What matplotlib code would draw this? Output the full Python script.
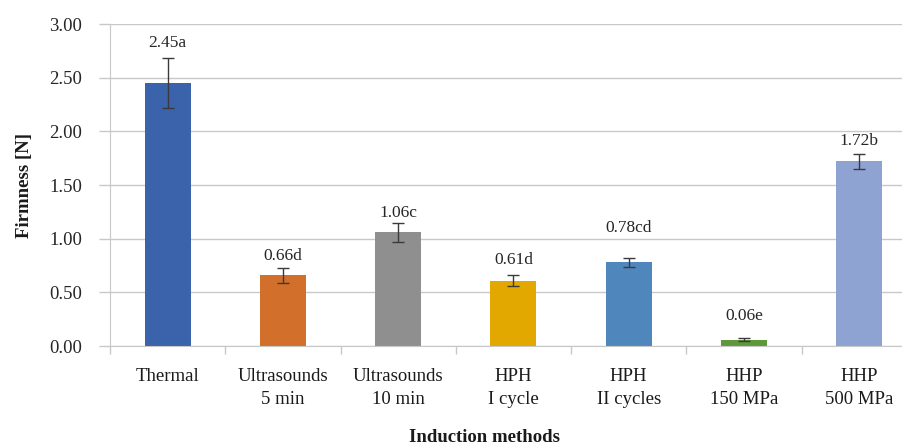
import matplotlib
matplotlib.use("Agg")
import matplotlib.pyplot as plt

methods = ["Thermal", "Ultrasounds\n5 min", "Ultrasounds\n10 min", "HPH\nI cycle",
           "HPH\nII cycles", "HHP\n150 MPa", "HHP\n500 MPa"]
firmness = [2.45, 0.66, 1.06, 0.61, 0.78, 0.06, 1.72]
errors = [0.23, 0.07, 0.09, 0.05, 0.04, 0.01, 0.07]
letters = ["a", "d", "c", "d", "cd", "e", "b"]
yticks = [0.0, 0.5, 1.0, 1.5, 2.0, 2.5, 3.0]

colors = ["#3A63AC", "#D2702B", "#8F8F8F", "#E2A800", "#4F87BD", "#5E983B", "#8FA3D3"]
label_offsets = [15, 12, 10, 15, 30, 22, 13]  # px above error bar, as in the figure

plt.rcParams["font.family"] = ["Liberation Serif", "DejaVu Serif"]

fig = plt.figure(figsize=(9.03, 4.44), dpi=100)
ax = fig.add_axes([110 / 903, 98 / 444, 1 - 110 / 903, 322 / 444])

x = list(range(len(methods)))
ax.bar(x, firmness, width=0.4, color=colors, zorder=2)
ax.errorbar(x, firmness, yerr=errors, fmt="none", ecolor="#3a3a3a",
            elinewidth=1, capsize=4, capthick=1, zorder=3)

for xi, v, e, lt, off in zip(x, firmness, errors, letters, label_offsets):
    ax.annotate(f"{v:.2f}{lt}", (xi, v + e), xytext=(0, off), textcoords="offset pixels",
                ha="center", va="center", fontsize=12.5, color="#262626")

ax.set_yticks(yticks)
ax.set_yticklabels([f"{t:.2f}" for t in yticks], fontsize=13.5, color="#262626")
ax.set_xticks(x)
ax.set_xticklabels(methods, fontsize=13.5, color="#1a1a1a", linespacing=1.45)
ax.tick_params(axis="x", length=0, pad=16)
ax.set_xticks([i + 0.5 for i in range(-1, 6)], minor=True)
ax.tick_params(axis="x", which="minor", length=6, color="#c8c8c8", width=1)
ax.tick_params(axis="y", length=8, color="#c8c8c8", width=1, pad=12)
ax.set_ylim(0, 3)
ax.set_xlim(-0.5, 6.38)

ax.grid(axis="y", color="#c8c8c8", linewidth=1, zorder=0)
for s in ["top", "right"]:
    ax.spines[s].set_visible(False)
ax.spines["left"].set_color("#c8c8c8")
ax.spines["bottom"].set_color("#c8c8c8")

ax.set_ylabel("Firmness [N]", fontsize=13.5, fontweight="bold", color="#1a1a1a", labelpad=12)
fig.text(485 / 903, 1 - 437 / 444, "Induction methods", ha="center", va="center",
         fontsize=13.5, fontweight="bold", color="#1a1a1a")

fig.savefig("out.png", dpi=100)
